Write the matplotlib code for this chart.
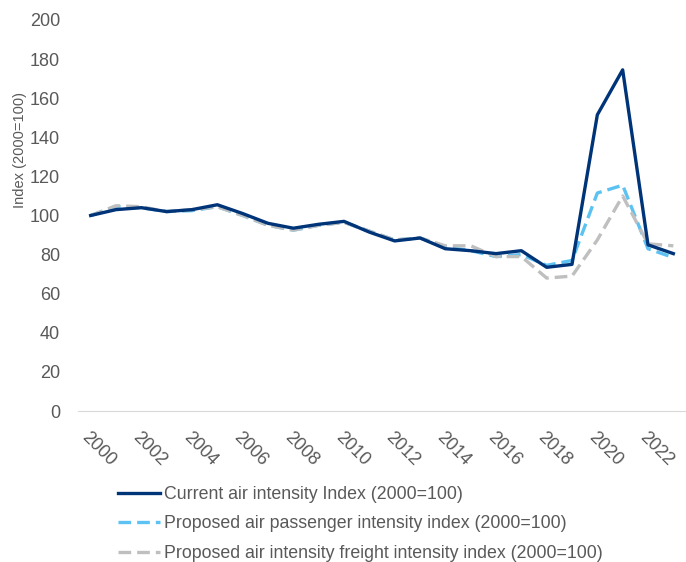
import matplotlib
matplotlib.use("Agg")
import matplotlib.pyplot as plt

plt.rcParams['font.family'] = ['Liberation Sans', 'DejaVu Sans']

years = list(range(2000, 2024))
current = [100, 103, 104, 102, 103, 105.5, 101, 96, 93.5, 95.5, 97, 91.5,
           87, 88.5, 83, 82, 80.5, 82, 73.5, 75, 151.5, 174.5, 85, 80.5]
passenger = [100, 104.5, 104, 102, 102.5, 104.5, 100, 95, 92.5, 95, 96.5, 92,
             87.5, 88.5, 84, 82, 79, 80, 74.5, 77, 111.5, 115.5, 83, 78.5]
freight = [100, 105, 104.5, 102, 103, 104.5, 100, 95, 92.5, 95, 96.5, 92,
           87.5, 88.5, 84.5, 84.5, 79, 79, 68, 69, 87.5, 110, 85.5, 84.5]
labels = ["Current air intensity Index (2000=100)",
          "Proposed air passenger intensity index (2000=100)",
          "Proposed air intensity freight intensity index (2000=100)"]

fig = plt.figure(figsize=(6.86, 5.62), dpi=100)
ax = fig.add_axes([78 / 686, 1 - 411 / 562, 608 / 686, 391 / 562])

text_col = "#595959"
ax.plot(years, current, color="#003478", lw=2.4, label=labels[0], zorder=3)
ax.plot(years, passenger, color="#5BC2F2", lw=2.4, dashes=(3.8, 1.8),
        label=labels[1], zorder=2)
ax.plot(years, freight, color="#BFBFBF", lw=2.4, dashes=(3.8, 1.8),
        label=labels[2], zorder=2)

ax.set_xlim(1999.5, 2023.5)
ax.set_ylim(0, 200)
ax.set_yticks(range(0, 201, 20))
ax.set_xticks(range(2000, 2023, 2))
ax.set_xticklabels([str(y) for y in range(2000, 2023, 2)], rotation=-45,
                   ha="left", va="top", rotation_mode="anchor")
ax.tick_params(axis="both", length=0, colors=text_col, labelsize=13)
ax.tick_params(axis="x", pad=13)
ax.tick_params(axis="y", pad=13)
for side in ["top", "right", "left"]:
    ax.spines[side].set_visible(False)
ax.spines["bottom"].set_color("#D9D9D9")
ax.set_ylabel("Index (2000=100)", color=text_col, fontsize=10.5)
ax.yaxis.set_label_coords(-0.084, 0.667)

ax.legend(loc="upper left", bbox_to_anchor=(118 / 686, 1 - 486 / 562),
          bbox_transform=fig.transFigure, frameon=False, fontsize=12.8,
          labelcolor=text_col, handlelength=2.36, handletextpad=0.22,
          labelspacing=0.7, borderaxespad=0, borderpad=0)

fig.savefig("out.png", dpi=100)
